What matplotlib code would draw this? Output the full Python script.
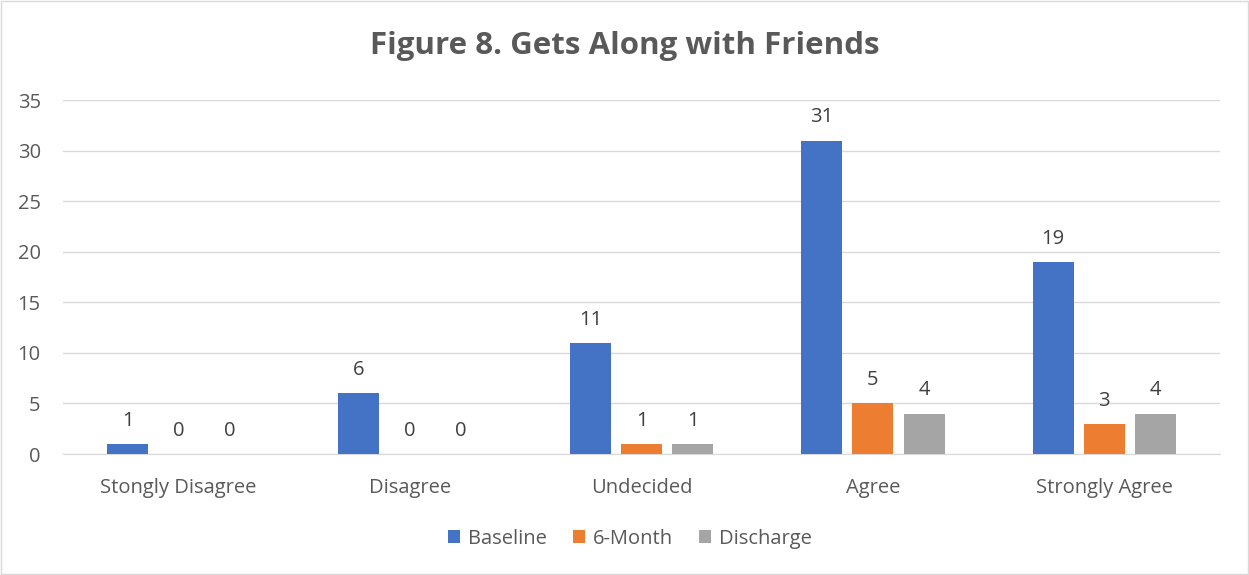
import numpy as np
import matplotlib.pyplot as plt

plt.rcParams['font.family'] = ['Open Sans', 'DejaVu Sans']

categories = ['Stongly Disagree', 'Disagree', 'Undecided', 'Agree', 'Strongly Agree']
baseline = [1, 6, 11, 31, 19]
six_month = [0, 0, 1, 5, 3]
discharge = [0, 0, 1, 4, 4]

series = [('Baseline', baseline, '#4472C4'),
          ('6-Month', six_month, '#ED7D31'),
          ('Discharge', discharge, '#A5A5A5')]

text_color = '#595959'

fig = plt.figure(figsize=(12.49, 5.75), dpi=100)
ax = fig.add_axes([0.0504, 0.2104, 0.9264, 0.6156])

x = np.arange(len(categories))
width = 0.177
step = 0.221
for i, (name, vals, color) in enumerate(series):
    pos = x + (i - 1) * step
    ax.bar(pos, vals, width=width, color=color, label=name, zorder=3)
    for p, v in zip(pos, vals):
        ax.text(p, v + 1.3, str(v), ha='center', va='bottom',
                fontsize=14.5, color='#404040')

ax.set_xlim(-0.5, len(categories) - 0.5)
ax.set_ylim(0, 35)
ax.set_yticks(range(0, 36, 5))
ax.set_xticks(x)
ax.set_xticklabels(categories)
ax.tick_params(axis='both', length=0, labelsize=14.5, labelcolor=text_color)
ax.tick_params(axis='y', pad=16)
ax.tick_params(axis='x', pad=17)
ax.yaxis.grid(True, color='#d9d9d9', linewidth=1, zorder=0)
for s in ['top', 'right', 'left']:
    ax.spines[s].set_visible(False)
ax.spines['bottom'].set_color('#d9d9d9')

fig.text(0.5, 0.92, 'Figure 8. Gets Along with Friends', ha='center', va='center',
         fontsize=22.5, fontweight='bold', color=text_color)

ax.legend(loc='center', bbox_to_anchor=(0.49, -0.24), ncol=3, frameon=False,
          fontsize=14.5, labelcolor=text_color, handlelength=0.6, handleheight=0.6,
          handletextpad=0.4, columnspacing=1.3)

fig.patches.append(plt.Rectangle((0.001, 0.002), 0.998, 0.996, transform=fig.transFigure,
                                 fill=False, edgecolor='#d9d9d9', linewidth=1))

plt.savefig('out.png', dpi=100)
